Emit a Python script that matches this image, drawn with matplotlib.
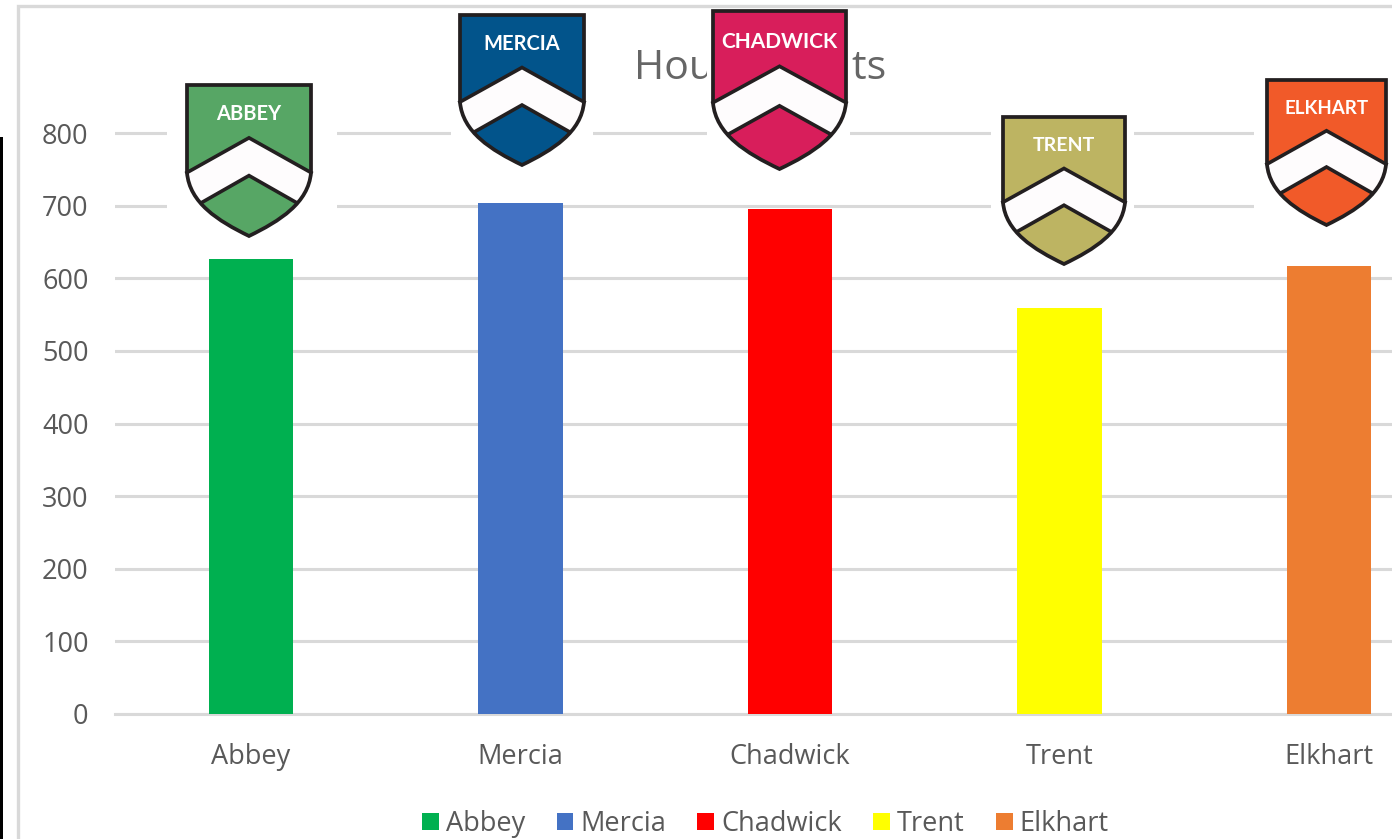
#!/usr/bin/env python

import numpy as np
from matplotlib import pyplot as plt
from matplotlib.path import Path
from matplotlib.patches import PathPatch, Polygon, Rectangle

houses = ["Abbey", "Mercia", "Chadwick", "Trent", "Elkhart"]
points = [627, 704, 695, 559, 617]
bar_colors = ["#00B050", "#4472C4", "#FF0000", "#FFFF00", "#ED7D31"]
y_ticks = [0, 100, 200, 300, 400, 500, 600, 700, 800]

crest_names = ["ABBEY", "MERCIA", "CHADWICK", "TRENT", "ELKHART"]
crest_colors = ["#57A665", "#02548B", "#D81E5B", "#BDB462", "#F15A29"]
# left, right, top, bottom of each crest in pixels, and its text size
crest_boxes = [(187, 311, 85, 236), (460, 584, 15, 165), (713, 846, 11, 169),
               (1003, 1125, 117, 264), (1267, 1386, 80, 225)]
crest_sizes = [14.5, 14.5, 15, 14, 13.5]
# white patches pasted over the chart behind the crests
paste_boxes = [(167, 337, 70, 250), (451, 593, 4, 180), (707, 850, 4, 180),
               (991, 1134, 105, 268), (1254, 1392, 70, 240)]

GRID = "#D9D9D9"
TEXT = "#595959"
OUTLINE = "#231F20"

W, H = 1392, 839
plt.rcParams['font.family'] = ['Open Sans', 'DejaVu Sans']

fig = plt.figure(figsize=(W / 100, H / 100), dpi=100, facecolor="white")

# chart area: zero is at y=714, 800 at y=133, first bar centre at x=251, bars 269.5 apart
ax = fig.add_axes([115 / W, (H - 714) / H, (W - 115) / W, 653 / H])
x = np.arange(len(houses))
for i in range(len(houses)):
    ax.bar(x[i], points[i], width=0.312, color=bar_colors[i], label=houses[i], zorder=3)
ax.set_xlim(-(251 - 115) / 269.5, (W - 251) / 269.5)
ax.set_ylim(0, 653 / 0.72625)
ax.set_yticks(y_ticks)
ax.set_xticks(x)
ax.set_xticklabels(houses)
ax.tick_params(axis="both", length=0, labelsize=19.5, labelcolor=TEXT)
ax.tick_params(axis="y", pad=19)
ax.tick_params(axis="x", pad=21)
ax.yaxis.grid(True, color=GRID, linewidth=2.2, zorder=0)
ax.set_axisbelow(True)
for side in ["top", "right", "left"]:
    ax.spines[side].set_visible(False)
ax.spines["bottom"].set_color(GRID)
ax.spines["bottom"].set_linewidth(2.2)

fig.text(760 / W, (H - 69) / H, "House Points", fontsize=29.5, color="#666666", ha="center", va="center")

fig.legend(loc="center", bbox_to_anchor=(765.5 / W, (H - 824) / H), ncol=5, frameon=False,
           fontsize=19.5, labelcolor=TEXT, handlelength=0.62, handleheight=0.62,
           handletextpad=0.26, columnspacing=1.15, borderpad=0, borderaxespad=0)

# overlay in pixel coordinates for the frame and the pasted crests
over = fig.add_axes([0, 0, 1, 1], zorder=5)
over.set_xlim(0, W)
over.set_ylim(H, 0)
over.axis("off")
over.patch.set_alpha(0)

over.plot([18, 18, W], [H, 6, 6], color=GRID, linewidth=2.4, solid_joinstyle="miter")
over.add_patch(Rectangle((0, 137), 3, H - 137, color="black", linewidth=0))


def draw_crest(left, right, top, bottom, color, name, size):
    cx = (left + right) / 2.0
    w = right - left
    h = bottom - top

    def px(u, v):
        return (cx + u * w, top + v * h)

    verts = [px(-.5, 0), px(.5, 0), px(.5, .58), px(.48, .78), px(.25, .9), px(0, 1),
             px(-.25, .9), px(-.48, .78), px(-.5, .58), px(-.5, 0)]
    codes = [Path.MOVETO, Path.LINETO, Path.LINETO, Path.CURVE4, Path.CURVE4, Path.CURVE4,
             Path.CURVE4, Path.CURVE4, Path.CURVE4, Path.CLOSEPOLY]
    shield = PathPatch(Path(verts, codes), facecolor=color, edgecolor="none", zorder=2)
    over.add_patch(shield)

    band = Polygon([px(-.5, .58), px(0, .35), px(.5, .58), px(.5, .95), px(.385, .78),
                    px(0, .6), px(-.385, .78), px(-.5, .95)],
                   facecolor="#FEFCFD", edgecolor="none", zorder=3)
    over.add_patch(band)
    band.set_clip_path(shield)

    for pts in ([px(-.5, .58), px(0, .35), px(.5, .58)], [px(-.385, .78), px(0, .6), px(.385, .78)]):
        over.plot([p[0] for p in pts], [p[1] for p in pts], color=OUTLINE, linewidth=2.6,
                  solid_joinstyle="miter", zorder=4)

    over.add_patch(PathPatch(Path(verts, codes), facecolor="none", edgecolor=OUTLINE,
                             linewidth=2.7, joinstyle="miter", zorder=5))
    over.text(cx, top + 0.195 * h, name, color="white", fontsize=size, fontfamily="Lato",
              fontweight="bold", ha="center", va="center", zorder=6)


for box in paste_boxes:
    over.add_patch(Rectangle((box[0], box[2]), box[1] - box[0], box[3] - box[2],
                             facecolor="white", edgecolor="none", zorder=1))

for i in range(len(crest_names)):
    draw_crest(*crest_boxes[i], crest_colors[i], crest_names[i], crest_sizes[i])

fig.savefig("out.png", dpi=100)
